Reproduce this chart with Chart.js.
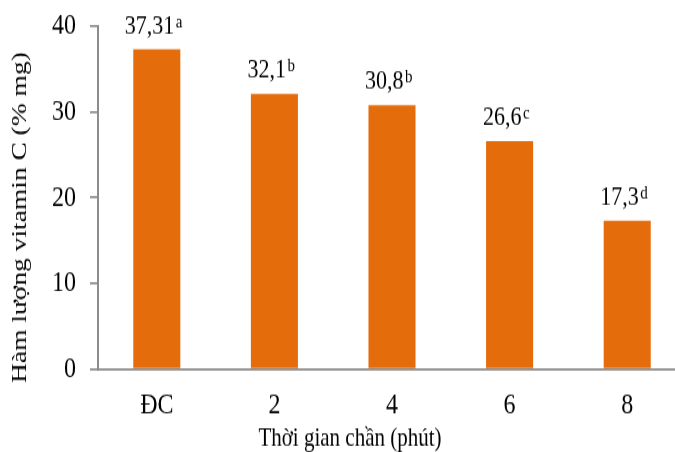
<!DOCTYPE html>
<html>
<head>
<meta charset="utf-8">
<script src="https://cdn.jsdelivr.net/npm/chart.js@4.4.1/dist/chart.umd.min.js"></script>
<style>
  html { overflow: hidden; }
  body { margin: 0; padding: 0; background: #fff; width: 675px; height: 452px; overflow: hidden; }
  /* the figure is drawn 362px tall and stretched vertically to fill 452px */
  #wrap { width: 686px; height: 362px; position: relative; transform: scale(1, 1.2486); transform-origin: 0 0; }
</style>
</head>
<body>
<div id="wrap"><canvas id="c" width="686" height="362"></canvas></div>
<script>
// Vitamin C content by blanching time
const categories = ['ĐC', '2', '4', '6', '8'];
const vitaminC = [37.31, 32.1, 30.8, 26.6, 17.3];
const groupLetters = ['a', 'b', 'b', 'c', 'd'];
const yTicks = [0, 10, 20, 30, 40];
const xTitle = 'Thời gian chần (phút)';
const yTitle = 'Hàm lượng vitamin C (% mg)';

const FONT = "'Liberation Serif', 'Times New Roman', serif";
const AXIS_GREY = '#8c8c8c';
const BAR_ORANGE = '#E46C0A';

// value text with a decimal comma, e.g. 37,31
const fmt = v => String(v).replace('.', ',');

const valueLabels = {
  id: 'valueLabels',
  afterDatasetsDraw(chart) {
    const ctx = chart.ctx;
    const meta = chart.getDatasetMeta(0);
    ctx.save();
    ctx.fillStyle = '#000';
    ctx.textBaseline = 'alphabetic';
    ctx.textAlign = 'left';
    meta.data.forEach((bar, i) => {
      const main = fmt(vitaminC[i]);
      const sup = groupLetters[i];
      ctx.font = '22px ' + FONT;
      const wMain = ctx.measureText(main).width;
      ctx.font = '15px ' + FONT;
      const wSup = ctx.measureText(sup).width;
      const x0 = bar.x - (wMain + wSup) / 2 - 4;
      const yBase = bar.y - 12.8;
      ctx.font = '22px ' + FONT;
      ctx.fillText(main, x0, yBase);
      ctx.font = '15px ' + FONT;
      ctx.fillText(sup, x0 + wMain + 1.5, yBase - 5);
    });
    ctx.restore();
  }
};

const axisTitles = {
  id: 'axisTitles',
  afterDraw(chart) {
    const ctx = chart.ctx;
    const area = chart.chartArea;
    ctx.save();
    ctx.fillStyle = '#000';
    ctx.textAlign = 'center';
    ctx.textBaseline = 'middle';
    ctx.font = '21px ' + FONT;
    ctx.fillText(xTitle, 350, 351);
    ctx.font = '22px ' + FONT;
    ctx.translate(20, (area.top + area.bottom) / 2 + 16);
    ctx.rotate(-Math.PI / 2);
    ctx.fillText(yTitle, 0, 0);
    ctx.restore();
  }
};

new Chart(document.getElementById('c'), {
  type: 'bar',
  data: {
    labels: categories,
    datasets: [{
      data: vitaminC,
      backgroundColor: BAR_ORANGE,
      borderWidth: 0,
      barPercentage: 0.4,
      categoryPercentage: 1.0
    }]
  },
  options: {
    responsive: false,
    animation: false,
    layout: { padding: { top: 21, right: 0, bottom: 0, left: 0 } },
    plugins: { legend: { display: false }, tooltip: { enabled: false } },
    scales: {
      x: {
        offset: true,
        grid: { drawOnChartArea: false, drawTicks: false },
        border: { display: true, color: AXIS_GREY, width: 1.7 },
        ticks: { color: '#000', font: { family: FONT, size: 24 }, padding: 15 },
        afterFit(scale) { scale.height = 66.5; scale.paddingLeft = 0; scale.paddingRight = 0; }
      },
      y: {
        min: 0,
        max: 40,
        afterBuildTicks(scale) { scale.ticks = yTicks.map(v => ({ value: v })); },
        grid: { drawOnChartArea: false, drawTicks: true, tickLength: 8, color: AXIS_GREY, lineWidth: 1.7 },
        border: { display: true, color: AXIS_GREY, width: 2 },
        ticks: { color: '#000', font: { family: FONT, size: 24 }, padding: 14 },
        afterFit(scale) { scale.width = 98; scale.paddingTop = 0; scale.paddingBottom = 0; }
      }
    }
  },
  plugins: [valueLabels, axisTitles]
});
</script>
</body>
</html>
